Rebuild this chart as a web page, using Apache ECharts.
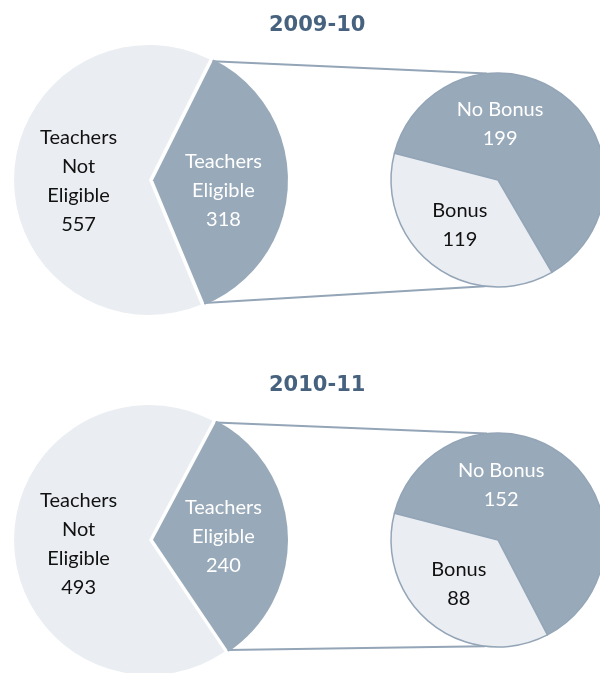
<!DOCTYPE html>
<html>
<head>
<meta charset="utf-8">
<script src="https://cdn.jsdelivr.net/npm/echarts@6/dist/echarts.min.js"></script>
<style>
  html, body { margin: 0; padding: 0; background: #fff; }
  #chart { width: 600px; height: 673px; }
</style>
</head>
<body>
<div id="chart"></div>
<script>
// values
const years = ["2009-10", "2010-11"];
const notEligible = [557, 493];
const eligible = [318, 240];
const bonus = [119, 88];
const noBonus = [199, 152];

const DARK = "#98a9b9";
const LIGHT = "#eaeef2";
const LINE = "#93a5b7";
const FONT = "Lato";

// geometry of one panel, second panel moves down by rowGap
const rowGap = 360;
const bigCenter = [149, 180];
const bigR = 135;
const smallCenter = [498, 180];
const smallR = 107;
const explode = 4;
const splitAngle = 165.5;
const tilt = [-2, 3]; // the eligible slice is not quite centred on the right

const chart = echarts.init(document.getElementById("chart"));

const series = [];
const titles = [];
const graphics = [];

function pt(cx, cy, r, deg) {
  const a = (deg * Math.PI) / 180;
  return [cx + r * Math.cos(a), cy - r * Math.sin(a)];
}

function labelText(p) {
  return p.name + "\n" + p.value;
}

years.forEach((year, i) => {
  const dy = i * rowGap;
  const total = eligible[i] + notEligible[i];
  const half = (eligible[i] / total) * 180;
  const start = half + tilt[i];
  const mid = tilt[i];

  titles.push({
    text: year,
    left: 264,
    top: 10 + dy,
    textStyle: {
      fontFamily: "DejaVu Sans",
      fontWeight: "bold",
      fontSize: 21,
      color: "#46627f",
    },
  });

  series.push({
    type: "pie",
    center: [bigCenter[0], bigCenter[1] + dy],
    radius: bigR,
    startAngle: start,
    clockwise: true,
    selectedMode: "single",
    selectedOffset: explode,
    silent: true,
    animation: false,
    label: {
      show: true,
      position: "inside",
      fontFamily: FONT,
      fontSize: 20,
      lineHeight: 29,
      formatter: labelText,
    },
    labelLine: { show: false },
    data: [
      {
        name: "Teachers\nEligible",
        value: eligible[i],
        selected: true,
        itemStyle: { color: DARK },
        select: { itemStyle: { color: DARK, borderWidth: 0 } },
        label: { color: "#ffffff" },
      },
      {
        name: "Teachers\nNot\nEligible",
        value: notEligible[i],
        itemStyle: { color: LIGHT },
        label: { color: "#111111" },
      },
    ],
    labelLayout: (p) => {
      if (i !== 0) return {};
      return p.dataIndex === 0 ? { dy: 8 } : { dy: 4 };
    },
  });

  series.push({
    type: "pie",
    center: [smallCenter[0], smallCenter[1] + dy],
    radius: smallR,
    startAngle: splitAngle,
    clockwise: true,
    silent: true,
    animation: false,
    itemStyle: { borderColor: LINE, borderWidth: 1.5 },
    label: {
      show: true,
      position: "inside",
      fontFamily: FONT,
      fontSize: 20,
      lineHeight: 29,
      formatter: labelText,
    },
    labelLine: { show: false },
    data: [
      {
        name: "No Bonus",
        value: noBonus[i],
        itemStyle: { color: DARK },
        label: { color: "#ffffff" },
      },
      {
        name: "Bonus",
        value: bonus[i],
        itemStyle: { color: LIGHT },
        label: { color: "#111111" },
      },
    ],
    labelLayout: (p) => (p.dataIndex === 0 ? { dx: -32, dy: -11 } : { dx: -4 }),
  });

  // connector lines from the exploded slice to the second pie
  const ec = pt(bigCenter[0], bigCenter[1] + dy, explode, mid);
  const topA = pt(ec[0], ec[1], bigR - 2, start);
  const botA = pt(ec[0], ec[1], bigR - 2, start - 2 * half);
  const topB = pt(smallCenter[0], smallCenter[1] + dy, smallR, 96);
  const botB = pt(smallCenter[0], smallCenter[1] + dy, smallR, -97);
  [[topA, topB], [botA, botB]].forEach(([a, b]) => {
    graphics.push({
      type: "line",
      z: 0,
      shape: { x1: a[0], y1: a[1], x2: b[0], y2: b[1] },
      style: { stroke: LINE, lineWidth: 2 },
      silent: true,
    });
  });
});

chart.setOption({
  backgroundColor: "#ffffff",
  animation: false,
  title: titles,
  graphic: graphics,
  series: series,
});
</script>
</body>
</html>
